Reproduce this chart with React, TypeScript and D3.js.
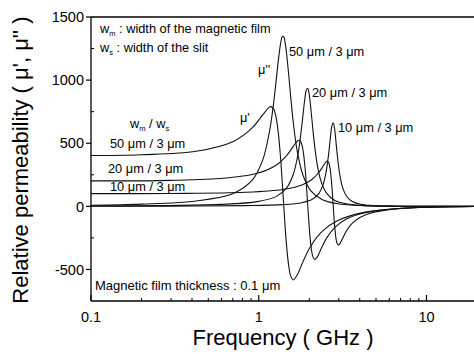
import React from "react";
import * as d3 from "d3";

// 50 um / 3 um
const freq50 = [0.1, 0.2, 0.423, 0.705, 0.917, 1.058, 1.156, 1.182, 1.227, 1.269, 1.311, 1.354, 1.382, 1.41, 1.438, 1.466, 1.509, 1.551, 1.607, 1.692, 1.833, 2.045, 2.397, 2.961, 4.23, 7.05, 20];
const muReal50 = [403, 409, 436, 514, 624, 726, 786, 790, 771, 705, 570, 357, 183, 1, -171, -317, -471, -553, -583, -546, -440, -314, -197, -113, -48, -16, -1];
const muImag50 = [8.5, 17.6, 42.8, 102, 209, 370, 585, 661, 821, 993, 1166, 1300, 1345, 1342, 1293, 1207, 1040, 865, 662, 445, 248, 123, 53, 21, 5.5, 1, 0];

// 20 um / 3 um
const freq20 = [0.1, 0.25, 0.588, 0.98, 1.274, 1.47, 1.607, 1.705, 1.739, 1.764, 1.823, 1.882, 1.921, 1.96, 1.999, 2.038, 2.097, 2.156, 2.234, 2.352, 2.548, 2.842, 3.332, 4.116, 5.88, 9.8, 20];
const muReal20 = [202, 204, 220, 262, 328, 404, 475, 520, 524, 520, 468, 325, 175, 1, -163, -289, -394, -421, -400, -338, -248, -167, -101, -57, -24, -7, -1];
const muImag20 = [2.2, 5.6, 15.4, 37.3, 78.8, 148, 254, 397, 464, 526, 688, 850, 921, 935, 886, 792, 624, 473, 327, 198, 101, 47, 20, 7.6, 2, 0.4, 0];

// 10 um / 3 um
const freq10 = [0.1, 0.3, 0.834, 1.39, 1.807, 2.085, 2.28, 2.419, 2.502, 2.56, 2.613, 2.669, 2.724, 2.78, 2.836, 2.891, 2.933, 2.983, 3.058, 3.169, 3.336, 3.614, 4.031, 4.726, 5.838, 8.34, 20];
const muReal10 = [101, 102, 111, 133, 169, 215, 268, 319, 349, 359, 346, 290, 170, 1, -158, -260, -295, -307, -292, -250, -193, -133, -86, -51, -28, -11, -1];
const muImag10 = [0.5, 1.7, 5.5, 13.3, 28.6, 55.5, 101, 172, 249, 328, 421, 534, 631, 662, 608, 501, 418, 330, 232, 144, 80, 38, 17, 7, 2.7, 0.7, 0];

const yMajor = [-500, 0, 500, 1000, 1500];
const yMinor = [-250, 250, 750, 1250];
const xMajor = [0.1, 1, 10];
const xMinor = [0.2, 0.3, 0.4, 0.5, 0.6, 0.7, 0.8, 0.9, 2, 3, 4, 5, 6, 7, 8, 9];
const xLabels = ["0.1", "1", "10"];

const font = "'Liberation Sans', Arial, Helvetica, sans-serif";

export default function App() {
  const x = d3.scaleLog().domain([0.1, 20]).range([91, 477]);
  const y = d3.scaleLinear().domain([-750, 1500]).range([301, 17]);

  const path = (fs: number[], vs: number[]) =>
    d3
      .line<number>()
      .x((_, i) => x(fs[i]))
      .y((d) => y(d))
      .curve(d3.curveCatmullRom.alpha(0.5))(vs) || "";

  const curves = [
    path(freq50, muReal50),
    path(freq50, muImag50),
    path(freq20, muReal20),
    path(freq20, muImag20),
    path(freq10, muReal10),
    path(freq10, muImag10),
  ];

  const left = x(0.1);
  const bottom = y(-750);
  const top = y(1500);
  const fs = 12.8;

  return (
    <svg width={474} height={354} style={{ position: "absolute", left: 0, top: 0, background: "#fff" }} fontFamily={font}>
      {curves.map((d, i) => (
        <path key={i} d={d} fill="none" stroke="#111" strokeWidth={1.1} />
      ))}

      {/* frame */}
      <line x1={left} x2={474} y1={top} y2={top} stroke="#000" strokeWidth={1.3} />
      <line x1={left} x2={474} y1={bottom} y2={bottom} stroke="#000" strokeWidth={1.3} />
      <line x1={left} x2={left} y1={top} y2={bottom} stroke="#000" strokeWidth={1.3} />

      {/* y ticks */}
      {yMajor.map((v) => (
        <g key={v}>
          <line x1={left - 5} x2={left} y1={y(v)} y2={y(v)} stroke="#000" strokeWidth={1.2} />
          <text x={left - 7} y={y(v)} dy="0.36em" textAnchor="end" fontSize={14.5}>
            {v}
          </text>
        </g>
      ))}
      {yMinor.map((v) => (
        <line key={v} x1={left} x2={left + 3} y1={y(v)} y2={y(v)} stroke="#000" strokeWidth={1} />
      ))}

      {/* x ticks */}
      {xMajor.map((v, i) => (
        <g key={v}>
          <line x1={x(v)} x2={x(v)} y1={bottom} y2={bottom - 6} stroke="#000" strokeWidth={1.2} />
          <text x={x(v)} y={322} textAnchor="middle" fontSize={14.5}>
            {xLabels[i]}
          </text>
        </g>
      ))}
      {xMinor.map((v) => (
        <line key={v} x1={x(v)} x2={x(v)} y1={bottom} y2={bottom - 3} stroke="#000" strokeWidth={1} />
      ))}

      {/* axis titles */}
      <text x={283} y={345} textAnchor="middle" fontSize={22}>
        Frequency ( GHz )
      </text>
      <text transform="translate(28,160) rotate(-90)" textAnchor="middle" fontSize={22}>
        Relative permeability ( μ', μ'' )
      </text>

      {/* annotations */}
      <text x={100} y={33} fontSize={fs}>
        w<tspan fontSize={7.5} dy={3}>m</tspan>
        <tspan dy={-3}> : width of the magnetic film</tspan>
      </text>
      <text x={100} y={52} fontSize={fs}>
        w<tspan fontSize={7.5} dy={3}>s</tspan>
        <tspan dy={-3}> : width of the slit</tspan>
      </text>
      <text x={130} y={128} fontSize={fs}>
        w<tspan fontSize={7.5} dy={3}>m</tspan>
        <tspan dy={-3}> /  w</tspan>
        <tspan fontSize={7.5} dy={3}>s</tspan>
      </text>
      <text x={110} y={148} fontSize={fs}>50 μm / 3 μm</text>
      <text x={108} y={173} fontSize={fs}>20 μm / 3 μm</text>
      <text x={110} y={191} fontSize={fs}>10 μm / 3 μm</text>

      <text x={289} y={56} fontSize={fs}>50 μm / 3 μm</text>
      <text x={312} y={97} fontSize={fs}>20 μm / 3 μm</text>
      <text x={338} y={132} fontSize={fs}>10 μm / 3 μm</text>

      <text x={258} y={74} fontSize={fs}>μ''</text>
      <text x={240} y={122} fontSize={fs}>μ'</text>

      <text x={95} y={290} fontSize={13}>Magnetic film thickness : 0.1 μm</text>
    </svg>
  );
}
